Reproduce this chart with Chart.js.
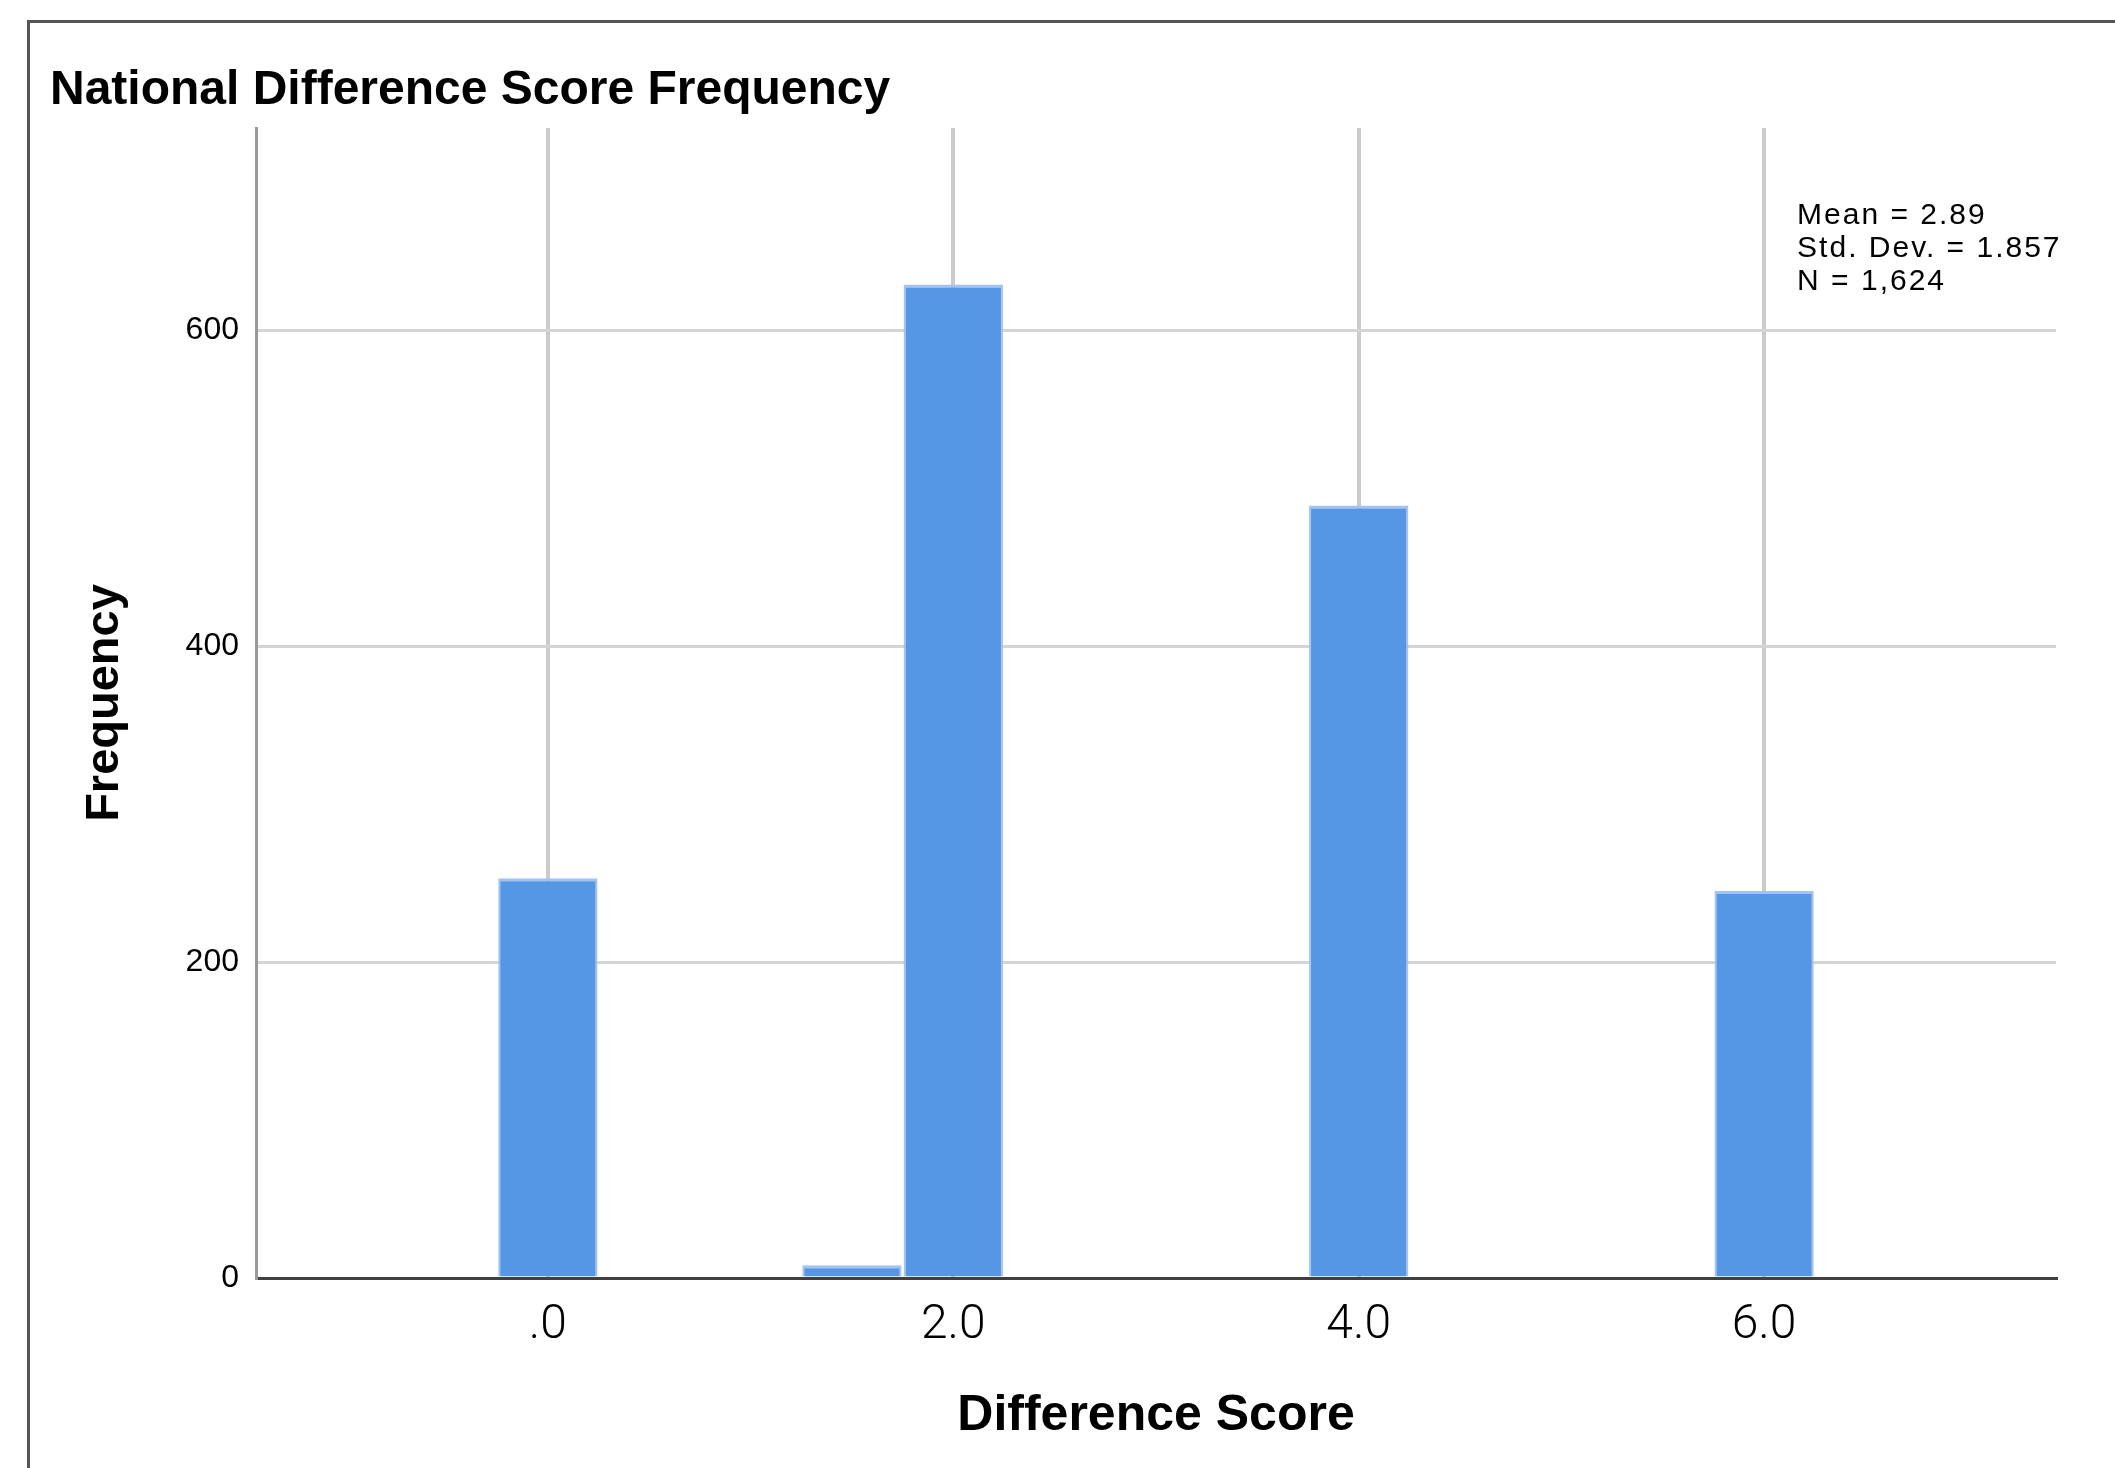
<!DOCTYPE html>
<html>
<head>
<meta charset="utf-8">
<script src="https://cdn.jsdelivr.net/npm/chart.js@4.4.1/dist/chart.umd.min.js"></script>
<style>
  html, body { margin: 0; padding: 0; background: #fff; }
  canvas { display: block; }
</style>
</head>
<body>
<canvas id="c" width="2115" height="1468"></canvas>
<script>
// ---- data ----
const binCenters = [0, 1.5, 2, 4, 6];
const frequencies = [253, 8, 629, 489, 245];
const xTicks = [0, 2, 4, 6];
const xTickLabels = ['.0', '2.0', '4.0', '6.0'];
const yTicks = [0, 200, 400, 600];
const statsLines = ['Mean = 2.89', 'Std. Dev. = 1.857', 'N = 1,624'];
const chartTitle = 'National Difference Score Frequency';
const xTitle = 'Difference Score';
const yTitle = 'Frequency';

const W = 2115, H = 1468;
const FAM = '"Liberation Sans", Arial, Helvetica, sans-serif';

const decor = {
  id: 'decor',
  beforeDraw(chart) {
    const c = chart.ctx;
    c.save();
    c.fillStyle = '#fff';
    c.fillRect(0, 0, W, H);
    c.strokeStyle = '#555';
    c.lineWidth = 3;
    c.beginPath();
    c.moveTo(28.5, H);
    c.lineTo(28.5, 21.5);
    c.lineTo(W, 21.5);
    c.stroke();
    c.restore();
  },
  afterDraw(chart) {
    const { ctx, chartArea, scales } = chart;
    const x = scales.x.getPixelForValue(6) + 33;
    ctx.save();
    ctx.fillStyle = '#000';
    ctx.font = '30px ' + FAM;
    ctx.letterSpacing = '2px';
    ctx.textAlign = 'left';
    ctx.textBaseline = 'alphabetic';
    statsLines.forEach((t, i) => ctx.fillText(t, x, chartArea.top + 96 + i * 33));
    ctx.restore();
  }
};

new Chart(document.getElementById('c'), {
  type: 'bar',
  data: {
    datasets: [{
      data: binCenters.map((x, i) => ({ x: x, y: frequencies[i] })),
      backgroundColor: '#5597e4',
      borderColor: '#a3c4f0',
      borderWidth: { top: 3, left: 2, right: 2, bottom: 0 },
      borderSkipped: 'start',
      barPercentage: 0.98,
      categoryPercentage: 1.0
    }]
  },
  options: {
    responsive: false,
    devicePixelRatio: 1,
    animation: false,
    layout: { padding: { left: 50, right: 59, top: 0, bottom: 0 } },
    plugins: {
      legend: { display: false },
      tooltip: { enabled: false },
      title: {
        display: true,
        text: chartTitle,
        align: 'start',
        color: '#000',
        font: { family: FAM, size: 48, weight: 'bold', lineHeight: 1.2 },
        padding: { top: 61.6, bottom: 8.8 }
      }
    },
    scales: {
      x: {
        type: 'linear',
        min: -1.44,
        max: 7.44,
        offset: false,
        afterBuildTicks: s => { s.ticks = xTicks.map(v => ({ value: v })); },
        afterFit: s => { s.height = 190; },
        grid: { offset: false, color: '#cbcbcb', lineWidth: 4, drawTicks: false },
        border: { color: '#404040', width: 3 },
        ticks: {
          padding: 19,
          color: '#000',
          maxRotation: 0,
          autoSkip: false,
          font: { family: 'Roboto, ' + FAM, size: 48, weight: 300 },
          callback: (v, i) => xTickLabels[i]
        },
        title: {
          display: true,
          text: xTitle,
          color: '#000',
          font: { family: FAM, size: 50, weight: 'bold', lineHeight: 1.2 },
          padding: { top: 0, bottom: 22 }
        }
      },
      y: {
        min: 0,
        max: 728,
        afterBuildTicks: s => { s.ticks = yTicks.map(v => ({ value: v })); },
        afterFit: s => { s.width = 206; },
        grid: {
          color: c => (c.tick && c.tick.value === 0) ? 'rgba(0,0,0,0)' : '#d4d4d4',
          lineWidth: 3,
          drawTicks: false
        },
        border: { color: '#999', width: 3 },
        ticks: {
          padding: 17,
          color: '#000',
          font: { family: FAM, size: 32 }
        },
        title: {
          display: true,
          text: yTitle,
          color: '#000',
          font: { family: FAM, size: 47, weight: 'bold', lineHeight: 1.2 },
          padding: { top: 27, bottom: 0 }
        }
      }
    }
  },
  plugins: [decor]
});
</script>
</body>
</html>
